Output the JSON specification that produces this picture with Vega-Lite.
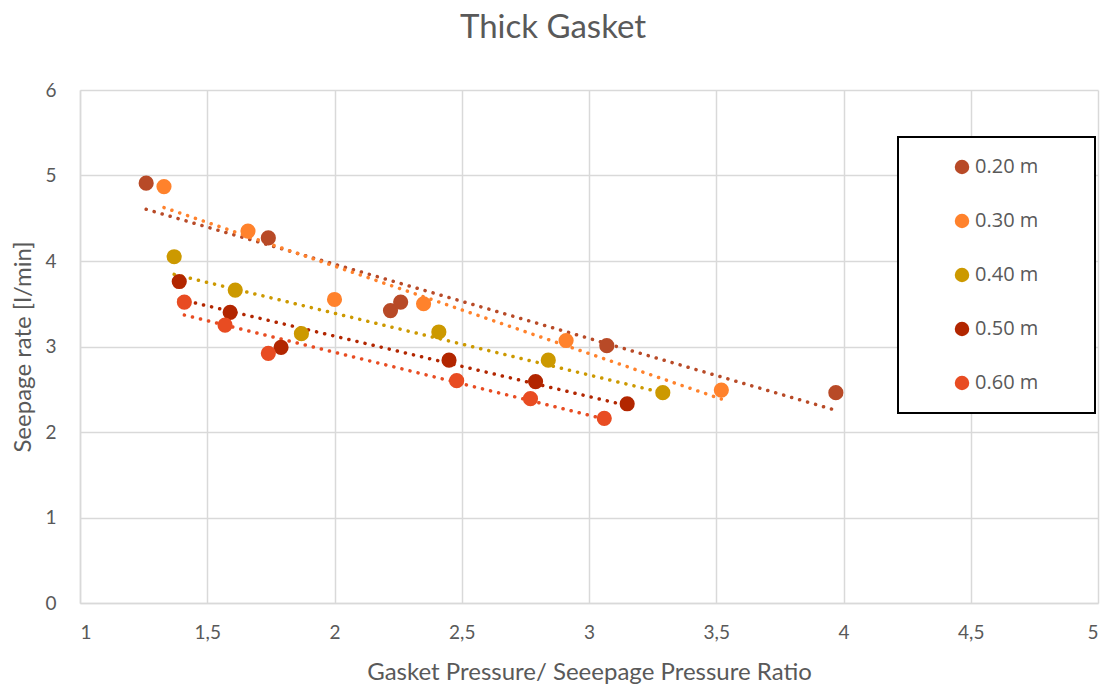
{
  "$schema": "https://vega.github.io/schema/vega-lite/v6.json",
  "width": 1018,
  "height": 513,
  "autosize": {"type": "none"},
  "padding": {"left": 80, "top": 90, "right": 14, "bottom": 83},
  "background": "white",
  "title": {
    "text": "Thick Gasket",
    "fontSize": 33,
    "font": "Lato",
    "fontWeight": "normal",
    "color": "#595959",
    "anchor": "middle",
    "dx": -36,
    "offset": 36
  },
  "config": {
    "view": {"stroke": null},
    "font": "Lato",
    "legend": {"strokeWidth": 2},
    "axis": {
      "gridColor": "#D9D9D9",
      "gridWidth": 1.5,
      "domainColor": "#D9D9D9",
      "domainWidth": 1.5,
      "ticks": false,
      "labelColor": "#595959",
      "labelFontSize": 19,
      "titleColor": "#595959",
      "titleFontSize": 24,
      "titleFontWeight": "normal"
    }
  },
  "data": {
    "values": [
      {"ratio": 1.26, "seepage": 4.91, "depth": "0.20 m"},
      {"ratio": 1.74, "seepage": 4.27, "depth": "0.20 m"},
      {"ratio": 2.22, "seepage": 3.42, "depth": "0.20 m"},
      {"ratio": 2.26, "seepage": 3.52, "depth": "0.20 m"},
      {"ratio": 3.07, "seepage": 3.01, "depth": "0.20 m"},
      {"ratio": 3.97, "seepage": 2.46, "depth": "0.20 m"},
      {"ratio": 1.33, "seepage": 4.87, "depth": "0.30 m"},
      {"ratio": 1.66, "seepage": 4.35, "depth": "0.30 m"},
      {"ratio": 2.0, "seepage": 3.55, "depth": "0.30 m"},
      {"ratio": 2.35, "seepage": 3.5, "depth": "0.30 m"},
      {"ratio": 2.91, "seepage": 3.07, "depth": "0.30 m"},
      {"ratio": 3.52, "seepage": 2.49, "depth": "0.30 m"},
      {"ratio": 1.37, "seepage": 4.05, "depth": "0.40 m"},
      {"ratio": 1.61, "seepage": 3.66, "depth": "0.40 m"},
      {"ratio": 1.87, "seepage": 3.15, "depth": "0.40 m"},
      {"ratio": 2.41, "seepage": 3.17, "depth": "0.40 m"},
      {"ratio": 2.84, "seepage": 2.84, "depth": "0.40 m"},
      {"ratio": 3.29, "seepage": 2.46, "depth": "0.40 m"},
      {"ratio": 1.39, "seepage": 3.76, "depth": "0.50 m"},
      {"ratio": 1.59, "seepage": 3.4, "depth": "0.50 m"},
      {"ratio": 1.79, "seepage": 2.99, "depth": "0.50 m"},
      {"ratio": 2.45, "seepage": 2.84, "depth": "0.50 m"},
      {"ratio": 2.79, "seepage": 2.59, "depth": "0.50 m"},
      {"ratio": 3.15, "seepage": 2.33, "depth": "0.50 m"},
      {"ratio": 1.41, "seepage": 3.52, "depth": "0.60 m"},
      {"ratio": 1.57, "seepage": 3.25, "depth": "0.60 m"},
      {"ratio": 1.74, "seepage": 2.92, "depth": "0.60 m"},
      {"ratio": 2.48, "seepage": 2.6, "depth": "0.60 m"},
      {"ratio": 2.77, "seepage": 2.39, "depth": "0.60 m"},
      {"ratio": 3.06, "seepage": 2.16, "depth": "0.60 m"}
    ]
  },
  "layer": [
    {
      "transform": [
        {"regression": "seepage", "on": "ratio", "groupby": ["depth"]}
      ],
      "mark": {"type": "line", "strokeWidth": 3.5, "strokeDash": [0.1, 8.2], "strokeCap": "round"},
      "encoding": {
        "x": {"field": "ratio", "type": "quantitative"},
        "y": {"field": "seepage", "type": "quantitative"},
        "color": {"field": "depth", "type": "nominal"},
        "detail": {"field": "depth"}
      }
    },
    {
      "mark": {"type": "point", "filled": true, "opacity": 1, "size": 230},
      "encoding": {
        "x": {
          "field": "ratio",
          "type": "quantitative",
          "scale": {"domain": [1, 5], "nice": false, "zero": false},
          "axis": {
            "title": "Gasket Pressure/ Seeepage Pressure Ratio",
            "values": [1, 1.5, 2, 2.5, 3, 3.5, 4, 4.5, 5],
            "format": "~g",
            "labelExpr": "replace(datum.label, '.', ',')",
            "labelPadding": 20,
            "titlePadding": 18
          }
        },
        "y": {
          "field": "seepage",
          "type": "quantitative",
          "scale": {"domain": [0, 6], "nice": false},
          "axis": {
            "title": "Seepage rate [l/min]",
            "values": [0, 1, 2, 3, 4, 5, 6],
            "format": "d",
            "labelPadding": 24,
            "titlePadding": 9
          }
        },
        "color": {
          "field": "depth",
          "type": "nominal",
          "scale": {
            "domain": ["0.20 m", "0.30 m", "0.40 m", "0.50 m", "0.60 m"],
            "range": ["#B84A27", "#FF822C", "#CC9900", "#B22600", "#E84C22"]
          },
          "legend": {
            "title": null,
            "orient": "none",
            "legendX": 818,
            "legendY": 47,
            "strokeColor": "black",
            "fillColor": "white",
            "padding": 20,
            "symbolOffset": 34,
            "labelOffset": 3,
            "symbolSize": 210,
            "symbolType": "circle",
            "symbolStrokeWidth": 0,
            "labelFontSize": 20,
            "labelColor": "#595959",
            "labelFont": "Open Sans",
            "labelExpr": "datum.label + '\u00a0\u00a0\u00a0\u00a0\u00a0\u00a0\u00a0\u200b'",
            "rowPadding": 34
          }
        }
      }
    }
  ]
}
